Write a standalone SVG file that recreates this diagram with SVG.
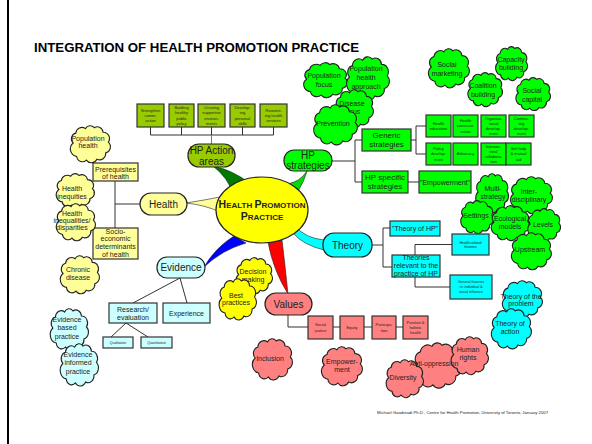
<svg xmlns="http://www.w3.org/2000/svg" xmlns:xlink="http://www.w3.org/1999/xlink" width="592" height="444" viewBox="0 0 592 444">
  <style>
    text { font-family: "Liberation Sans", Arial, sans-serif; fill: #222; text-anchor: middle; }
    .title { font-size: 13px; font-weight: bold; fill: #000; text-anchor: start; }
    .pill { stroke: #222; stroke-width: 1.2; }
    .box { stroke: #333; stroke-width: 1.2; }
    .cl { stroke: #222; stroke-width: 1.1; }
    .olive { fill: #99cc00; }
    .green { fill: #00ff00; }
    .pyel { fill: #ffff99; }
    .yel { fill: #ffff00; }
    .pcyan { fill: #ccffff; }
    .cyan { fill: #00ffff; }
    .salmon { fill: #ff8080; }
    .t10 { font-size: 10px; }
    .t8 { font-size: 8px; }
    .t7 { font-size: 7px; }
    .t4 { font-size: 4px; }
    .t35 { font-size: 3.5px; }
    .link { stroke: #333; stroke-width: 1; fill: none; }
    .wedge { stroke: #222; stroke-width: 0.6; }
  </style>
  <defs>
    <!-- lobed cloud outline, stretched to each node's box -->
    <symbol id="cloud" viewBox="0 0 100 80" preserveAspectRatio="none" overflow="visible">
      <path vector-effect="non-scaling-stroke" d="M 14 40 A 13 13 0 0 1 20 18 A 14 14 0 0 1 42 8 A 12 12 0 0 1 62 6 A 13 13 0 0 1 82 16 A 14 14 0 0 1 94 38 A 14 14 0 0 1 88 62 A 14 14 0 0 1 68 76 A 14 14 0 0 1 44 78 A 13 13 0 0 1 22 70 A 17 17 0 0 1 14 40 Z"/>
    </symbol>
  </defs>

  <rect width="592" height="444" fill="#fff"/>
  <line x1="8" y1="0" x2="8" y2="444" stroke="#000" stroke-width="2"/>

  <text class="title" x="34" y="52" textLength="325" lengthAdjust="spacingAndGlyphs">INTEGRATION OF HEALTH PROMOTION PRACTICE</text>

  <!-- tapered branches from the hub -->
  <g id="branches">
    <path class="wedge" fill="#007a00" d="M 213 166 Q 228 178 232 192 L 248 182 Q 232 170 213 166 Z"/>
    <path class="wedge" fill="#00dd00" d="M 307 171 Q 300 182 287 184 L 298 191 Q 304 182 307 171 Z"/>
    <path class="wedge" fill="#ffff99" d="M 186 203 Q 205 200 220 197 L 220 212 Q 205 205 186 203 Z"/>
    <path class="wedge" fill="#0000ff" d="M 204 267 Q 215 248 234 236 L 246 243 Q 222 250 204 267 Z"/>
    <path class="wedge" fill="#ff0000" d="M 268 242 Q 273 270 288 294 Q 285 265 282 240 Z"/>
    <path class="wedge" fill="#00ffff" d="M 295 226 Q 305 238 324 240 L 324 250 Q 303 245 293 233 Z"/>
  </g>

  <!-- connectors -->
  <g id="connectors" class="link">
    <path d="M 150.5 127 V 135 M 181.5 127 V 135 M 211.5 127 V 135 M 242.5 127 V 135 M 273.5 127 V 135 M 150.5 135 H 273.5"/>
    <path d="M 211.5 135 V 144" stroke="#777"/>
    <path d="M 332 161 H 355 M 355 140 V 182 M 355 140 H 362 M 355 182 H 362"/>
    <path d="M 411 140 H 416 M 416 126 V 154 M 416 126 H 426 M 416 154 H 426"/>
    <path d="M 408 182 H 419"/>
    <path d="M 372 245 H 383 M 383 228 V 267 M 383 228 H 390 M 383 267 H 392"/>
    <path d="M 415 255 V 244.5 H 452 M 415 277 V 287 H 450"/>
    <path d="M 288 315 V 327 H 308 M 333 327 H 340 M 364 327 H 372 M 396 327 H 403"/>
    <path d="M 115 181 V 228 M 115 204 H 140"/>
    <path d="M 180 278 L 133 303 M 180 278 L 187 303"/>
    <path d="M 126 323 L 111 337 M 126 323 L 148 337"/>
  </g>

  <!-- hub -->
  <g id="hub">
    <ellipse cx="262" cy="210" rx="46" ry="33" fill="#ffff00" stroke="#222" stroke-width="1.2"/>
    <text x="262" y="208" font-weight="bold" font-size="8"><tspan font-size="10.5">H</tspan>EALTH <tspan font-size="10.5">P</tspan>ROMOTION</text>
    <text x="262" y="220" font-weight="bold" font-size="8"><tspan font-size="10.5">P</tspan>RACTICE</text>
  </g>

  <!-- HP action areas -->
  <g id="hp-action-areas">
    <rect class="pill olive" x="188" y="144" width="47" height="23" rx="11"/>
    <text class="t10" x="211.5" y="154">HP Action</text>
    <text class="t10" x="211.5" y="164.5">areas</text>
  </g>
  <g id="action-strengthen">
    <rect class="box olive" x="137" y="104" width="27" height="23"/>
    <text class="t4" x="150.5" y="111.7">Strengthen</text><text class="t4" x="150.5" y="116.9">comm.</text><text class="t4" x="150.5" y="122.1">action</text>
  </g>
  <g id="action-policy">
    <rect class="box olive" x="169" y="104" width="25" height="23"/>
    <text class="t4" x="181.5" y="109.1">Building</text><text class="t4" x="181.5" y="114.3">healthy</text><text class="t4" x="181.5" y="119.5">public</text><text class="t4" x="181.5" y="124.7">policy</text>
  </g>
  <g id="action-environments">
    <rect class="box olive" x="198" y="104" width="27" height="23"/>
    <text class="t4" x="211.5" y="109.1">Creating</text><text class="t4" x="211.5" y="114.3">supportive</text><text class="t4" x="211.5" y="119.5">environ-</text><text class="t4" x="211.5" y="124.7">ments</text>
  </g>
  <g id="action-skills">
    <rect class="box olive" x="230" y="104" width="25" height="23"/>
    <text class="t4" x="242.5" y="109.1">Develop-</text><text class="t4" x="242.5" y="114.3">ing</text><text class="t4" x="242.5" y="119.5">personal</text><text class="t4" x="242.5" y="124.7">skills</text>
  </g>
  <g id="action-services">
    <rect class="box olive" x="260" y="104" width="27" height="23"/>
    <text class="t4" x="273.5" y="111.7">Reorient-</text><text class="t4" x="273.5" y="116.9">ing health</text><text class="t4" x="273.5" y="122.1">services</text>
  </g>

  <!-- HP strategies -->
  <g id="hp-strategies">
    <rect class="pill green" x="284" y="150" width="48" height="21" rx="10"/>
    <text class="t10" x="308" y="159">HP</text>
    <text class="t10" x="308" y="169">strategies</text>
  </g>
  <g id="generic-strategies">
    <rect class="box green" x="362" y="129" width="49" height="22"/>
    <text class="t8" x="386.5" y="138">Generic</text><text class="t8" x="386.5" y="146.5">strategies</text>
  </g>
  <g id="hp-specific-strategies">
    <rect class="box green" x="362" y="171" width="46" height="22"/>
    <text class="t8" x="385" y="180">HP specific</text><text class="t8" x="385" y="188.5">strategies</text>
  </g>
  <g id="empowerment-box">
    <rect class="box green" x="419" y="171" width="52" height="22"/>
    <text class="t7" x="445" y="185">"Empowerment"</text>
  </g>
  <g id="health-education">
    <rect class="box green" x="426" y="115" width="25" height="22"/>
    <text class="t4" x="438.5" y="124.8">Health</text><text class="t4" x="438.5" y="130">education</text>
  </g>
  <g id="health-communication">
    <rect class="box green" x="453" y="115" width="25" height="22"/>
    <text class="t4" x="465.5" y="122.2">Health</text><text class="t4" x="465.5" y="127.4">communi-</text><text class="t4" x="465.5" y="132.6">cation</text>
  </g>
  <g id="organizational-development">
    <rect class="box green" x="481" y="115" width="25" height="22"/>
    <text class="t4" x="493.5" y="119.6">Organiza-</text><text class="t4" x="493.5" y="124.8">tional</text><text class="t4" x="493.5" y="130">develop-</text><text class="t4" x="493.5" y="135.2">ment</text>
  </g>
  <g id="community-development">
    <rect class="box green" x="509" y="115" width="25" height="22"/>
    <text class="t4" x="521.5" y="119.6">Commu-</text><text class="t4" x="521.5" y="124.8">nity</text><text class="t4" x="521.5" y="130">develop-</text><text class="t4" x="521.5" y="135.2">ment</text>
  </g>
  <g id="policy-development">
    <rect class="box green" x="426" y="143" width="25" height="22"/>
    <text class="t4" x="438.5" y="150.2">Policy</text><text class="t4" x="438.5" y="155.4">develop-</text><text class="t4" x="438.5" y="160.6">ment</text>
  </g>
  <g id="advocacy">
    <rect class="box green" x="453" y="143" width="25" height="22"/>
    <text class="t4" x="465.5" y="155.4">Advocacy</text>
  </g>
  <g id="intersectoral-collaboration">
    <rect class="box green" x="481" y="143" width="25" height="22"/>
    <text class="t4" x="493.5" y="147.6">Intersec-</text><text class="t4" x="493.5" y="152.8">toral</text><text class="t4" x="493.5" y="158">collabora-</text><text class="t4" x="493.5" y="163.2">tion</text>
  </g>
  <g id="self-help">
    <rect class="box green" x="506" y="143" width="25" height="22"/>
    <text class="t4" x="518.5" y="150.2">Self help</text><text class="t4" x="518.5" y="155.4">&amp; mutual</text><text class="t4" x="518.5" y="160.6">aid</text>
  </g>

  <!-- strategy clouds -->
  <g id="population-focus">
    <use xlink:href="#cloud" class="cl green" x="300" y="62" width="48" height="34"/>
    <text class="t7" x="324" y="78">Population</text><text class="t7" x="324" y="87">focus</text>
  </g>
  <g id="population-health-approach">
    <use xlink:href="#cloud" class="cl green" x="343" y="56" width="47" height="42"/>
    <text class="t7" x="366" y="71">Population</text><text class="t7" x="366" y="80">health</text><text class="t7" x="366" y="89">approach</text>
  </g>
  <g id="disease-focus">
    <use xlink:href="#cloud" class="cl green" x="332" y="89" width="42" height="37"/>
    <text class="t7" x="352" y="105.5">Disease</text><text class="t7" x="352" y="114">focus</text>
  </g>
  <g id="prevention">
    <use xlink:href="#cloud" class="cl green" x="310" y="104" width="48" height="39"/>
    <text class="t7" x="333" y="125.5">Prevention</text>
  </g>
  <g id="social-marketing">
    <use xlink:href="#cloud" class="cl green" x="425" y="48" width="45" height="38"/>
    <text class="t7" x="447" y="67">Social</text><text class="t7" x="447" y="76">marketing</text>
  </g>
  <g id="capacity-building">
    <use xlink:href="#cloud" class="cl green" x="493" y="46" width="35" height="33"/>
    <text class="t7" x="511" y="61.5">Capacity</text><text class="t7" x="511" y="70">building</text>
  </g>
  <g id="coalition-building">
    <use xlink:href="#cloud" class="cl green" x="465" y="72" width="38" height="33"/>
    <text class="t7" x="483" y="88">Coalition</text><text class="t7" x="483" y="97">building</text>
  </g>
  <g id="social-capital">
    <use xlink:href="#cloud" class="cl green" x="513" y="77" width="38" height="32"/>
    <text class="t7" x="532" y="93">Social</text><text class="t7" x="532" y="102">capital</text>
  </g>
  <g id="multi-strategy">
    <use xlink:href="#cloud" class="cl green" x="473" y="173" width="36" height="38"/>
    <text class="t7" x="493" y="190.5">Multi-</text><text class="t7" x="493" y="199">strategy</text>
  </g>
  <g id="inter-disciplinary">
    <use xlink:href="#cloud" class="cl green" x="507" y="176" width="46" height="36"/>
    <text class="t7" x="529" y="193.5">Inter-</text><text class="t7" x="529" y="202">disciplinary</text>
  </g>
  <g id="settings">
    <use xlink:href="#cloud" class="cl green" x="458" y="200" width="36" height="32"/>
    <text class="t7" x="476" y="217.5">Settings</text>
  </g>
  <g id="ecological-models">
    <use xlink:href="#cloud" class="cl green" x="488" y="205" width="42" height="34"/>
    <text class="t7" x="510" y="220.5">Ecological</text><text class="t7" x="510" y="229">models</text>
  </g>
  <g id="levels">
    <use xlink:href="#cloud" class="cl green" x="525" y="208" width="36" height="32"/>
    <text class="t7" x="543" y="227">Levels</text>
  </g>
  <g id="upstream">
    <use xlink:href="#cloud" class="cl green" x="508" y="232" width="44" height="36"/>
    <text class="t7" x="530" y="251.5">Upstream</text>
  </g>

  <!-- Theory -->
  <g id="theory">
    <rect class="pill cyan" x="323" y="233" width="49" height="24" rx="11"/>
    <text class="t10" x="347.5" y="249">Theory</text>
  </g>
  <g id="theory-of-hp">
    <rect class="box cyan" x="390" y="221" width="50" height="15"/>
    <text class="t7" x="415" y="231">"Theory of HP"</text>
  </g>
  <g id="theories-relevant">
    <rect class="box cyan" x="392" y="255" width="48" height="22"/>
    <text class="t7" x="416" y="259.5">Theories</text><text class="t7" x="416" y="267.5">relevant to the</text><text class="t7" x="416" y="275.5">practice of HP</text>
  </g>
  <g id="health-related-theories">
    <rect class="box cyan" x="452" y="234" width="37" height="21"/>
    <text class="t35" x="470.5" y="243.5">Health-related</text><text class="t35" x="470.5" y="248">theories</text>
  </g>
  <g id="general-theories">
    <rect class="box cyan" x="450" y="275" width="42" height="24"/>
    <text class="t35" x="471" y="283">General theories</text><text class="t35" x="471" y="288">re. individual &amp;</text><text class="t35" x="471" y="293">social influence</text>
  </g>
  <g id="theory-of-the-problem">
    <use xlink:href="#cloud" class="cl cyan" x="499" y="280" width="44" height="36"/>
    <text class="t7" x="521" y="298.5">Theory of the</text><text class="t7" x="521" y="305.5">problem</text>
  </g>
  <g id="theory-of-action">
    <use xlink:href="#cloud" class="cl cyan" x="488" y="308" width="44" height="39"/>
    <text class="t7" x="510" y="325.5">Theory of</text><text class="t7" x="510" y="333.5">action</text>
  </g>

  <!-- Health -->
  <g id="health">
    <rect class="pill pyel" x="140" y="193" width="47" height="22" rx="11"/>
    <text class="t10" x="163.5" y="207.5">Health</text>
  </g>
  <g id="prerequisites">
    <rect class="box pyel" x="93" y="163" width="45" height="18"/>
    <text class="t7" x="115.5" y="171.5">Prerequisites</text><text class="t7" x="115.5" y="178.5">of health</text>
  </g>
  <g id="socio-economic">
    <rect class="box pyel" x="93" y="228" width="45" height="31"/>
    <text class="t7" x="115.5" y="233.5">Socio-</text><text class="t7" x="115.5" y="241.2">economic</text><text class="t7" x="115.5" y="248.9">determinants</text><text class="t7" x="115.5" y="256.6">of health</text>
  </g>
  <g id="population-health">
    <use xlink:href="#cloud" class="cl pyel" x="67" y="125" width="44" height="36"/>
    <text class="t7" x="88" y="140.5">Population</text><text class="t7" x="88" y="147.5">health</text>
  </g>
  <g id="health-inequities">
    <use xlink:href="#cloud" class="cl pyel" x="53" y="173" width="42" height="33"/>
    <text class="t7" x="72" y="190.5">Health</text><text class="t7" x="72" y="198.5">inequities</text>
  </g>
  <g id="health-inequalities">
    <use xlink:href="#cloud" class="cl pyel" x="53" y="203" width="43" height="36"/>
    <text class="t7" x="72" y="215.5">Health</text><text class="t7" x="72" y="222.8">inequalities/</text><text class="t7" x="72" y="230.3">disparities</text>
  </g>
  <g id="chronic-disease">
    <use xlink:href="#cloud" class="cl pyel" x="57" y="255" width="43" height="37"/>
    <text class="t7" x="78" y="271.5">Chronic</text><text class="t7" x="78" y="279.5">disease</text>
  </g>

  <!-- Evidence -->
  <g id="evidence">
    <rect class="pill pcyan" x="157" y="257" width="48" height="21" rx="10"/>
    <text class="t10" x="181" y="271">Evidence</text>
  </g>
  <g id="research-evaluation">
    <rect class="box pcyan" x="109" y="303" width="48" height="20"/>
    <text class="t7" x="133" y="311.5">Research/</text><text class="t7" x="133" y="319.5">evaluation</text>
  </g>
  <g id="experience">
    <rect class="box pcyan" x="163" y="303" width="47" height="20"/>
    <text class="t7" x="186.5" y="315.5">Experience</text>
  </g>
  <g id="qualitative">
    <rect class="box pcyan" x="103" y="337" width="30" height="11"/>
    <text class="t35" x="118" y="343.8">Qualitative</text>
  </g>
  <g id="quantitative">
    <rect class="box pcyan" x="141" y="337" width="31" height="11"/>
    <text class="t35" x="156.5" y="343.8">Quantitative</text>
  </g>
  <g id="evidence-based-practice">
    <use xlink:href="#cloud" class="cl pcyan" x="47" y="308" width="42" height="40"/>
    <text class="t7" x="67" y="321.5">Evidence</text><text class="t7" x="67" y="330">based</text><text class="t7" x="67" y="338.5">practice</text>
  </g>
  <g id="evidence-informed-practice">
    <use xlink:href="#cloud" class="cl pcyan" x="57" y="343" width="42" height="41"/>
    <text class="t7" x="78" y="356.5">Evidence</text><text class="t7" x="78" y="365">informed</text><text class="t7" x="78" y="373.5">practice</text>
  </g>
  <g id="decision-making">
    <use xlink:href="#cloud" class="cl yel" x="233" y="257" width="40" height="35"/>
    <text class="t7" x="253" y="273.5">Decision</text><text class="t7" x="253" y="281.5">making</text>
  </g>
  <g id="best-practices">
    <use xlink:href="#cloud" class="cl yel" x="216" y="278" width="41" height="40"/>
    <text class="t7" x="236" y="297.5">Best</text><text class="t7" x="236" y="305">practices</text>
  </g>

  <!-- Values -->
  <g id="values">
    <rect class="pill salmon" x="265" y="293" width="47" height="22" rx="11"/>
    <text class="t10" x="288.5" y="307.5">Values</text>
  </g>
  <g id="social-justice">
    <rect class="box salmon" x="308" y="316" width="25" height="23"/>
    <text class="t4" x="320.5" y="326.3">Social</text><text class="t4" x="320.5" y="331.5">justice</text>
  </g>
  <g id="equity">
    <rect class="box salmon" x="340" y="316" width="24" height="23"/>
    <text class="t4" x="352" y="328.9">Equity</text>
  </g>
  <g id="participation">
    <rect class="box salmon" x="372" y="316" width="24" height="23"/>
    <text class="t4" x="384" y="326.3">Participa-</text><text class="t4" x="384" y="331.5">tion</text>
  </g>
  <g id="positive-health">
    <rect class="box salmon" x="403" y="316" width="25" height="23"/>
    <text class="t4" x="415.5" y="323.7">Positive &amp;</text><text class="t4" x="415.5" y="328.9">holistic</text><text class="t4" x="415.5" y="334.1">health</text>
  </g>
  <g id="inclusion">
    <use xlink:href="#cloud" class="cl salmon" x="249" y="338" width="44" height="40"/>
    <text class="t7" x="270" y="360.5">Inclusion</text>
  </g>
  <g id="empowerment">
    <use xlink:href="#cloud" class="cl salmon" x="318" y="346" width="45" height="38"/>
    <text class="t7" x="342" y="363.5">Empower-</text><text class="t7" x="342" y="371.5">ment</text>
  </g>
  <g id="anti-oppression">
    <use xlink:href="#cloud" class="cl salmon" x="410" y="342" width="52" height="44"/>
  </g>
  <g id="diversity">
    <use xlink:href="#cloud" class="cl salmon" x="383" y="359" width="41" height="37"/>
    <text class="t7" x="403" y="379.5">Diversity</text>
  </g>
  <g id="human-rights">
    <use xlink:href="#cloud" class="cl salmon" x="448" y="336" width="41" height="37"/>
    <text class="t7" x="468" y="351.5">Human</text><text class="t7" x="468" y="359.5">rights</text>
  </g>
  <text class="t7" x="434" y="365.5">Anti-oppression</text>

  <text x="377" y="413.5" font-size="4" style="text-anchor:start" fill="#333" textLength="171" lengthAdjust="spacingAndGlyphs">Michael Goodstadt Ph.D., Centre for Health Promotion, University of Toronto, January 2007</text>
</svg>
